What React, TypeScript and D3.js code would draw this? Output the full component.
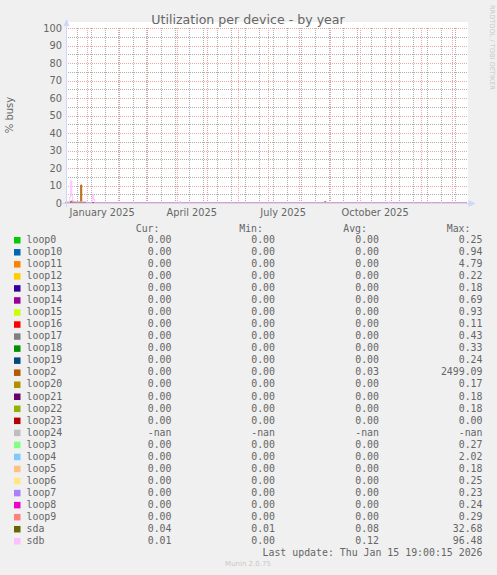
import * as d3 from "d3";

// legend rows, in the order munin lists them
const devices = [
  "loop0", "loop10", "loop11", "loop12", "loop13", "loop14", "loop15", "loop16",
  "loop17", "loop18", "loop19", "loop2", "loop20", "loop21", "loop22", "loop23",
  "loop24", "loop3", "loop4", "loop5", "loop6", "loop7", "loop8", "loop9", "sda", "sdb"
];
const deviceColors = [
  "#00CC00", "#0066B3", "#FF8000", "#FFCC00", "#330099", "#990099", "#CCFF00", "#FF0000",
  "#808080", "#008F00", "#00487D", "#B35A00", "#B38F00", "#6B006B", "#8FB300", "#B30000",
  "#BEBEBE", "#80FF80", "#80C9FF", "#FFC080", "#FFE680", "#AA80FF", "#EE00CC", "#FF8080",
  "#666600", "#FFBFFF"
];
const curValues = [
  "0.00", "0.00", "0.00", "0.00", "0.00", "0.00", "0.00", "0.00", "0.00", "0.00", "0.00", "0.00", "0.00",
  "0.00", "0.00", "0.00", "-nan", "0.00", "0.00", "0.00", "0.00", "0.00", "0.00", "0.00", "0.04", "0.01"
];
const minValues = [
  "0.00", "0.00", "0.00", "0.00", "0.00", "0.00", "0.00", "0.00", "0.00", "0.00", "0.00", "0.00", "0.00",
  "0.00", "0.00", "0.00", "-nan", "0.00", "0.00", "0.00", "0.00", "0.00", "0.00", "0.00", "0.01", "0.00"
];
const avgValues = [
  "0.00", "0.00", "0.00", "0.00", "0.00", "0.00", "0.00", "0.00", "0.00", "0.00", "0.00", "0.03", "0.00",
  "0.00", "0.00", "0.00", "-nan", "0.00", "0.00", "0.00", "0.00", "0.00", "0.00", "0.00", "0.08", "0.12"
];
const maxValues = [
  "0.25", "0.94", "4.79", "0.22", "0.18", "0.69", "0.93", "0.11", "0.43", "0.33", "0.24", "2499.09", "0.17",
  "0.18", "0.18", "0.00", "-nan", "0.27", "2.02", "0.18", "0.25", "0.23", "0.24", "0.29", "32.68", "96.48"
];

const timeStart = "2024-12-11T19:00:00Z";
const timeEnd = "2026-01-15T19:00:00Z";
const yTicks = [0, 10, 20, 30, 40, 50, 60, 70, 80, 90, 100];
const yMinorTicks = [5, 15, 25, 35, 45, 55, 65, 75, 85, 95];

// series: [day, % busy]; everything not listed sits on 0
const flatPoints: [string, number][] = [["2024-12-11", 0], ["2026-01-16", 0]];
const loop2Points: [string, number][] = [
  ["2024-12-11", 0], ["2024-12-26", 10.3], ["2024-12-27", 0], ["2026-01-16", 0]
];
const sdaPoints: [string, number][] = [
  ["2024-12-11", 0.4], ["2024-12-16", 1.0], ["2024-12-19", 0.5], ["2024-12-26", 0.4],
  ["2025-01-01", 0.1], ["2025-08-27", 0.8], ["2025-08-28", 0.1], ["2026-01-16", 0.1]
];
const sdbPoints: [string, number][] = [
  ["2024-12-11", 0.1], ["2024-12-15", 3.5], ["2024-12-16", 12.7], ["2024-12-17", 4.0],
  ["2024-12-18", 0.8], ["2024-12-19", 0.6], ["2025-01-01", 0.1], ["2025-01-06", 1.5],
  ["2025-01-07", 5.0], ["2025-01-08", 2.0], ["2025-01-09", 0.1], ["2025-04-04", 0.9],
  ["2025-04-05", 0.1], ["2025-10-30", 0.6], ["2025-10-31", 0.1], ["2025-12-11", 0.5],
  ["2025-12-12", 0.1], ["2025-12-21", 0.5], ["2025-12-22", 0.1], ["2026-01-16", 0.1]
];

const seriesPoints = devices.map(d =>
  d === "loop2" ? loop2Points : d === "sda" ? sdaPoints : d === "sdb" ? sdbPoints : flatPoints);

const parseDay = d3.utcParse("%Y-%m-%d");

export default function App() {
  const width = 497;
  const height = 575;
  const plotLeft = 66.5;
  const plotRight = 466.5;
  const plotTop = 28;
  const plotBottom = 203;

  const start = new Date(timeStart);
  const end = new Date(timeEnd);

  const x = d3.scaleUtc([start, end], [plotLeft, plotRight]);
  const y = d3.scaleLinear([0, 100], [plotBottom, plotTop]);

  const px = (v: number) => Math.round(v);

  const months = d3.utcMonth.range(start, end);
  // only label quarters whose whole month is on the graph
  const labelMonths = months.filter(m => m.getUTCMonth() % 3 === 0 && d3.utcMonth.offset(m, 1) <= end);
  // minor grid: every other sunday, first one on 22 Dec 2024
  const sundays = d3.utcDay.range(start, end).filter(d => d.getUTCDay() === 0)
    .filter((_, i) => i % 2 === 1);

  const line = d3.line<[string, number]>()
    .x(d => x(parseDay(d[0]) as Date))
    .y(d => y(d[1]))
    .curve(d3.curveStepAfter);

  const font = "'DejaVu Sans', sans-serif";
  const mono = "'DejaVu Sans Mono', monospace";
  const fontColor = "#666666";
  const axisColor = "#CFD6F8";
  const minorColor = "#AEAEAE";
  const majorColor = "#E8A8A8";

  const rowY = (i: number) => 243 + i * 12.04;
  const colRight = [171.5, 275, 379, 482.5];
  const gridX0 = 67;
  const gridX1 = 468;
  const gridY0 = plotTop;
  const gridY1 = plotBottom;

  return (
    <svg width={width} height={height} style={{ position: "absolute", left: 0, top: 0 }}>
      <defs>
        {/* rrdtool-style 1px-on / 1px-off dotted grid */}
        <pattern id="minorH" width={2} height={1} patternUnits="userSpaceOnUse">
          <rect width={1} height={1} fill={minorColor} />
        </pattern>
        <pattern id="minorV" width={1} height={2} patternUnits="userSpaceOnUse">
          <rect width={1} height={1} fill={minorColor} />
        </pattern>
        <pattern id="majorH" width={2} height={1} patternUnits="userSpaceOnUse">
          <rect width={1} height={1} fill={majorColor} />
        </pattern>
        <pattern id="majorV" width={1} height={2} patternUnits="userSpaceOnUse">
          <rect width={1} height={1} fill={majorColor} />
        </pattern>
      </defs>
      <rect width={width} height={height} fill="#F0F0F0" />
      <rect x={plotLeft} y={plotTop - 6} width={plotRight - plotLeft + 1.5} height={plotBottom - plotTop + 6} fill="#FFFFFF" />

      <text x={248} y={24} textAnchor="middle" fontFamily={font} fontSize={12.6} fill={fontColor}>
        Utilization per device - by year
      </text>
      <text transform="translate(490,5) rotate(90)" fontFamily={font} fontSize={6.6} fill="#C8C8C8">
        RRDTOOL / TOBI OETIKER
      </text>
      <text transform="translate(13,115) rotate(-90)" textAnchor="middle" fontFamily={font} fontSize={10} fill={fontColor}>
        % busy
      </text>

      {/* minor grid */}
      <g shapeRendering="crispEdges">
        {yMinorTicks.map(t => (
          <rect key={`h${t}`} x={gridX0} y={px(y(t))} width={gridX1 - gridX0} height={1} fill="url(#minorH)" />
        ))}
        {sundays.map(s => (
          <rect key={`v${+s}`} x={px(x(s))} y={gridY0} width={1} height={gridY1 - gridY0} fill="url(#minorV)" />
        ))}
      </g>
      {/* major grid */}
      <g shapeRendering="crispEdges">
        {yTicks.filter(t => t > 0).map(t => (
          <rect key={`h${t}`} x={gridX0} y={px(y(t))} width={gridX1 - gridX0} height={1} fill="url(#majorH)" />
        ))}
        {months.map(m => (
          <rect key={`v${+m}`} x={px(x(m))} y={gridY0} width={1} height={gridY1 - gridY0} fill="url(#majorV)" />
        ))}
      </g>

      {/* series */}
      {seriesPoints.map((pts, i) => (
        <path key={devices[i]} d={line(pts) ?? ""} fill="none" stroke={deviceColors[i]} strokeWidth={1} />
      ))}

      {/* axes with arrows */}
      <g stroke={axisColor} strokeWidth={1}>
        <line x1={plotLeft} x2={plotLeft} y1={plotBottom + 4} y2={plotTop - 4} />
        <line x1={plotLeft - 4} x2={plotRight + 4} y1={plotBottom + 0.5} y2={plotBottom + 0.5} />
      </g>
      <g fill={axisColor} stroke="none">
        <path d={`M${plotLeft - 3},${plotTop - 2} L${plotLeft},${plotTop - 9} L${plotLeft + 3},${plotTop - 2} Z`} />
        <path d={`M${plotRight + 2},${plotBottom - 3} L${plotRight + 9},${plotBottom + 0.5} L${plotRight + 2},${plotBottom + 4} Z`} />
      </g>

      {/* y tick labels */}
      <g fontFamily={font} fontSize={9.8} fill={fontColor} textAnchor="end">
        {yTicks.map(t => (
          <text key={t} x={62} y={y(t) + 3.6}>{t}</text>
        ))}
      </g>
      {/* x labels centred in their month */}
      <g fontFamily={font} fontSize={9.8} fill={fontColor} textAnchor="middle">
        {labelMonths.map(m => (
          <text key={+m} x={(x(m) + x(d3.utcMonth.offset(m, 1))) / 2} y={216}>
            {d3.utcFormat("%B %Y")(m)}
          </text>
        ))}
      </g>

      {/* legend */}
      <g fontFamily={mono} fontSize={9.9} fill={fontColor}>
        {["Cur:", "Min:", "Avg:", "Max:"].map((h, j) => (
          <text key={h} x={colRight[j] - 12} y={231.5} textAnchor="end">{h}</text>
        ))}
        {devices.map((dev, i) => (
          <g key={dev}>
            <rect x={14} y={rowY(i) - 6} width={6.5} height={6.5} fill={deviceColors[i]} />
            <text x={26.5} y={rowY(i)}>{dev}</text>
            {[curValues, minValues, avgValues, maxValues].map((vals, j) => (
              <text key={j} x={colRight[j]} y={rowY(i)} textAnchor="end">{vals[i]}</text>
            ))}
          </g>
        ))}
        <text x={482.5} y={555.5} textAnchor="end">Last update: Thu Jan 15 19:00:15 2026</text>
      </g>
      <text x={248} y={566} textAnchor="middle" fontFamily={font} fontSize={7} fill="#C8C8C8">Munin 2.0.75</text>
    </svg>
  );
}
